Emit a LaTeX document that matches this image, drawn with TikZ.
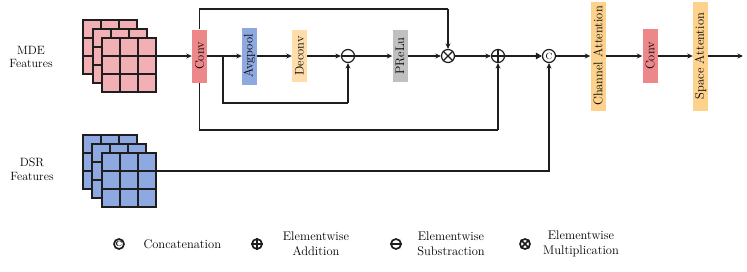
\documentclass[tikz,border=0pt]{standalone}
\usetikzlibrary{arrows.meta}
\definecolor{convred}{RGB}{236,136,138}
\definecolor{avgblue}{RGB}{142,168,224}
\definecolor{deccol}{RGB}{255,221,170}
\definecolor{attn}{RGB}{253,210,140}
\definecolor{grayc}{RGB}{192,192,192}
\definecolor{gridpink}{RGB}{242,176,180}
\definecolor{gridblue}{RGB}{142,169,225}
\definecolor{ink}{RGB}{30,30,30}
\newcommand\fgrid[3]{%
  \fill[#3] (#1,#2) rectangle ++(54,54);
  \foreach \k in {18,36} {\draw[gl] (#1+\k,#2) -- ++(0,54); \draw[gl] (#1,#2+\k) -- ++(54,0);}
  \draw[gl] (#1,#2) rectangle ++(54,54);}
\begin{document}
\begin{tikzpicture}[x=1pt,y=-1pt,
  gl/.style={line width=1.3pt, draw=ink},
  ln/.style={line width=1.25pt, draw=ink},
  arr/.style={ln, -{Stealth[length=5.5pt,width=5pt]}},
  bigarr/.style={ln, -{Triangle[length=6pt,width=6.5pt]}},
  blk/.style={rotate=90, inner sep=0pt, minimum height=15pt, draw=none, font=\fontsize{12.5}{14}\selectfont},
  op/.style={circle, draw=ink, line width=1.2pt, minimum size=13pt, inner sep=0pt, fill=white},
  lop/.style={circle, draw=ink, line width=1.7pt, minimum size=10pt, inner sep=0pt},
  lbl/.style={align=center, font=\fontsize{12}{13.5}\selectfont},
  leg/.style={align=center, font=\fontsize{12.5}{15}\selectfont}]
\useasboundingbox (0,0) rectangle (747,271);

% feature stacks
\fgrid{83}{20}{gridpink}
\fgrid{93}{29}{gridpink}
\fgrid{102}{38}{gridpink}
\fgrid{83}{135}{gridblue}
\fgrid{92}{144}{gridblue}
\fgrid{102}{153}{gridblue}

\node[lbl] (mde) at (31,57) {MDE\\Features};
\node[lbl] (dsr) at (32,169.5) {DSR\\Features};

% blocks
\node[blk, fill=convred, minimum width=53pt] (conv1) at (199.5,56) {Conv};
\node[blk, fill=avgblue, minimum width=57pt] (avg) at (249.5,56) {Avgpool};
\node[blk, fill=deccol, minimum width=52pt] (dec) at (299.5,56) {Deconv};
\node[op] (sub) at (348,56) {};
\node[blk, fill=grayc, minimum width=52pt] (prelu) at (400,56) {PReLu};
\node[op] (mul) at (448,56) {};
\node[op] (add) at (498,56) {};
\node[op, font=\fontsize{9}{9}\selectfont] (cat) at (549,56) {C};
\node[blk, fill=attn, minimum width=109pt] (ca) at (598,56) {Channel Attention};
\node[blk, fill=convred, minimum width=54pt] (conv2) at (650,56) {Conv};
\node[blk, fill=attn, minimum width=109pt] (sa) at (700.5,56) {Space Attention};

\draw[ln] (sub.west) -- (sub.east);
\draw[ln] (add.west) -- (add.east);
\draw[ln] (add.north) -- (add.south);
\draw[ln] (mul.north west) -- (mul.south east);
\draw[ln] (mul.north east) -- (mul.south west);

\coordinate (mdeout) at (156,56);
\coordinate (dsrout) at (156,171);
\coordinate (br) at (223,56);
\coordinate (top) at (448,9);
\coordinate (mid) at (348,103);
\coordinate (bot) at (498,130);
\coordinate (out) at (743,56);

% connectors
\draw[arr] (mdeout) -- (conv1);
\draw[arr] (conv1) -- (avg);
\draw[arr] (avg) -- (dec);
\draw[arr] (dec) -- (sub);
\draw[arr] (sub) -- (prelu);
\draw[arr] (prelu) -- (mul);
\draw[arr] (mul) -- (add);
\draw[bigarr] (add) -- (cat);
\draw[arr] (cat) -- (ca);
\draw[arr] (ca) -- (conv2);
\draw[arr] (conv2) -- (sa);
\draw[arr] (sa) -- (out);
\draw[ln] (conv1) |- (top);
\draw[arr] (top) -- (mul);
\draw[ln] (conv1) |- (bot);
\draw[arr] (bot) -- (add);
\draw[ln] (br) |- (mid);
\draw[arr] (mid) -- (sub);
\draw[arr, line width=1.15pt] (dsrout) -| (cat);

% legend
\node[lop, font=\bfseries\fontsize{7.5}{7.5}\selectfont] (lcat) at (119,244) {C};
\node[leg, anchor=west] (tcat) at (140,244) {Concatenation};
\node[lop] (ladd) at (257,244) {};
\draw[line width=1.7pt, draw=ink] (ladd.west) -- (ladd.east) (ladd.north) -- (ladd.south);
\node[leg] (tadd) at (316,244) {Elementwise\\Addition};
\node[lop] (lsub) at (396,244) {};
\draw[line width=1.7pt, draw=ink] (lsub.west) -- (lsub.east);
\node[leg] (tsub) at (451,244) {Elementwise\\Substraction};
\node[lop] (lmul) at (525,244) {};
\draw[line width=1.7pt, draw=ink] (lmul.north west) -- (lmul.south east) (lmul.north east) -- (lmul.south west);
\node[leg] (tmul) at (581,244) {Elementwise\\Multiplication};
\end{tikzpicture}
\end{document}
